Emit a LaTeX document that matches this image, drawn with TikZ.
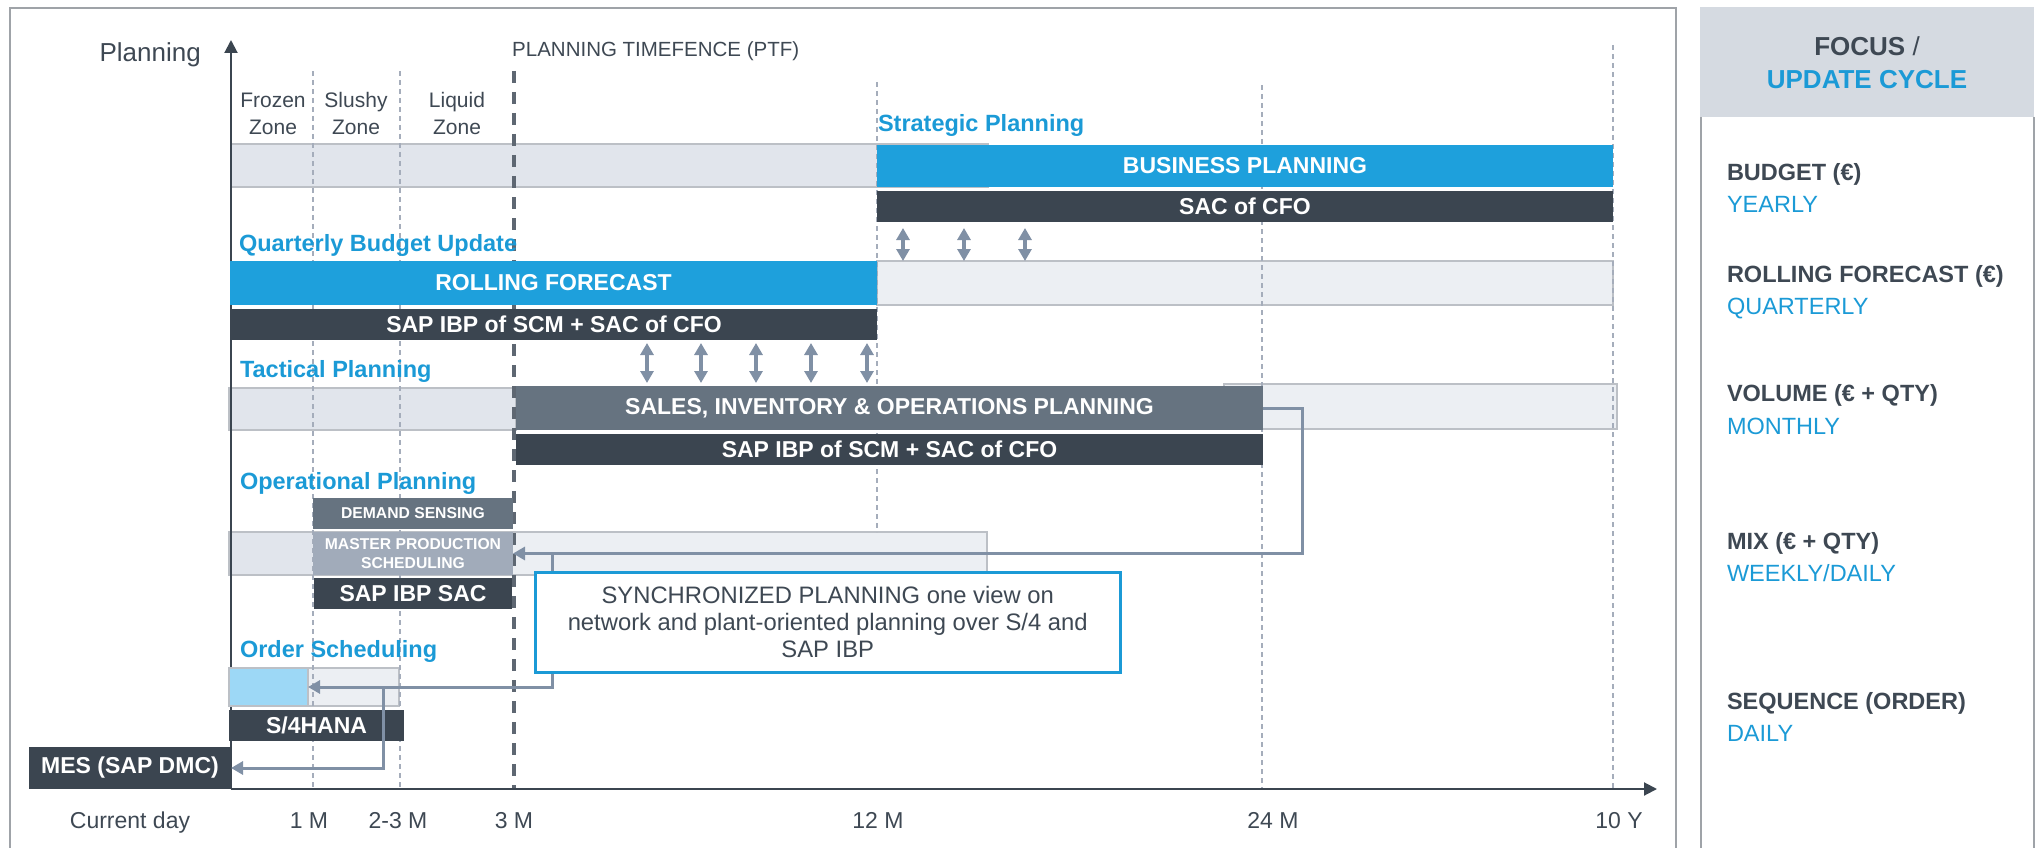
\documentclass[tikz,border=0pt]{standalone}
\usepackage{fontspec}
\setmainfont{Liberation Sans}
\usetikzlibrary{arrows.meta}
\definecolor{dk}{HTML}{3B4550}
\definecolor{txt}{HTML}{3E4853}
\definecolor{bluebar}{HTML}{1EA0DC}
\definecolor{bluet}{HTML}{1B9AD6}
\definecolor{sopc}{HTML}{667380}
\definecolor{mpsc}{HTML}{A1ABBA}
\definecolor{bandA}{HTML}{E1E5EC}
\definecolor{bandB}{HTML}{ECEFF3}
\definecolor{bandln}{HTML}{BCC0C6}
\definecolor{lblue}{HTML}{9DD8F6}
\definecolor{arrc}{HTML}{8090A5}
\definecolor{dashc}{HTML}{A5ADBB}
\definecolor{ptfc}{HTML}{5E6772}
\definecolor{framec}{HTML}{9FA3A8}
\definecolor{hdr}{HTML}{D5DAE1}
\newcommand\fBar{\fontsize{23}{26}\selectfont\bfseries}
\newcommand\fSmall{\fontsize{15.7}{18.5}\selectfont\bfseries}
\newcommand\fHead{\fontsize{23.5}{27}\selectfont\bfseries}
\newcommand\fZone{\fontsize{21}{27}\selectfont}
\newcommand\fAxis{\fontsize{23}{27}\selectfont}
\newcommand\fSync{\fontsize{23.8}{27}\selectfont}
\newcommand\fR{\fontsize{23.5}{27}\selectfont}
\newcommand\fHdr{\fontsize{26}{30}\selectfont}
\begin{document}
\begin{tikzpicture}[x=1pt,y=-1pt,
  bar/.style={rectangle, anchor=north west, inner sep=0pt, outer sep=0pt, text=white, font=\fBar, align=center},
  smallbar/.style={bar, font=\fSmall},
  head/.style={inner sep=0pt, outer sep=0pt, anchor=base west, text=bluet, font=\fHead},
  lbl/.style={inner sep=0pt, outer sep=0pt, text=txt, font=\fZone, align=center},
  axl/.style={inner sep=0pt, outer sep=0pt, anchor=base, text=txt, font=\fAxis},
  ritem/.style={inner sep=0pt, outer sep=0pt, anchor=base west, text=txt, font=\fR\bfseries},
  rcyc/.style={inner sep=0pt, outer sep=0pt, anchor=base west, text=bluet, font=\fR},
  bandbox/.style={draw=bandln, line width=1.2pt},
  thindash/.style={draw=dashc, line width=1.3pt, dash pattern=on 5pt off 4pt},
  ptfdash/.style={draw=ptfc, line width=3.5pt, dash pattern=on 12pt off 9pt},
  conn/.style={draw=arrc, line width=3pt, -{Triangle[width=13pt,length=12pt]}},
  dbl/.style={draw=arrc, line width=3.5pt, {Triangle[width=13pt,length=12pt]}-{Triangle[width=13pt,length=12pt]}},
  axis/.style={draw=dk, line width=2pt, -{Triangle[width=13pt,length=13pt]}},
]
\useasboundingbox (0,0) rectangle (2038,848);
% frames
\draw[framec, line width=2pt] (10,850) -- (10,8) -- (1676,8) -- (1676,850);
\fill[hdr] (1700,7) rectangle (2034,117);
\draw[framec, line width=2pt] (1701,117) -- (1701,850);
\draw[framec, line width=2pt] (2034,117) -- (2034,850);
% bands
\fill[bandA] (231,144) rectangle (988,187);
\draw[bandbox] (231,144) rectangle (988,187);
\fill[bandB] (877,261) rectangle (1613,305);
\draw[bandbox] (877,261) rectangle (1613,305);
\fill[bandA] (229,388) rectangle (516,430);
\draw[bandbox] (229,388) rectangle (516,430);
\fill[bandB] (1224,384) rectangle (1617,429);
\draw[bandbox] (1224,384) rectangle (1617,429);
\fill[bandA] (229,532) rectangle (513,575);
\fill[bandB] (513,532) rectangle (987,575);
\draw[bandbox] (229,532) rectangle (987,575);
\fill[bandB] (308,668) rectangle (399,706);
\draw[bandbox] (229,668) rectangle (399,706);
% dashed time lines
\draw[thindash] (313,71) -- (313,789);
\draw[thindash] (400,71) -- (400,789);
\draw[thindash] (877,82) -- (877,532);
\draw[thindash] (1262,85) -- (1262,789);
\draw[thindash] (1613,45) -- (1613,789);
\draw[ptfdash] (514,71) -- (514,789);
% axes
\draw[axis] (231,789) -- (231,40);
\draw[axis] (231,789) -- (1657,789);
% bars
\node[bar, fill=bluebar, minimum width=736pt, minimum height=42pt] (bp) at (877,145) {BUSINESS PLANNING};
\node[bar, fill=dk, minimum width=736pt, minimum height=31pt] (saccfo) at (877,191) {SAC of CFO};
\node[bar, fill=bluebar, minimum width=647pt, minimum height=44pt] (rf) at (230,261) {ROLLING FORECAST};
\node[bar, fill=dk, minimum width=646pt, minimum height=31pt] (ibpa) at (231,309) {SAP IBP of SCM + SAC of CFO};
\node[bar, fill=sopc, minimum width=747pt, minimum height=44pt] (sop) at (516,386) {SALES, INVENTORY \& OPERATIONS PLANNING};
\node[bar, fill=dk, minimum width=747pt, minimum height=31pt] (ibpb) at (516,434) {SAP IBP of SCM + SAC of CFO};
\node[smallbar, fill=sopc, minimum width=200pt, minimum height=31pt] (ds) at (313,498) {DEMAND SENSING};
\node[smallbar, fill=mpsc, minimum width=200pt, minimum height=43pt] (mps) at (313,532) {MASTER PRODUCTION\\SCHEDULING};
\node[bar, fill=dk, minimum width=198pt, minimum height=31pt] (ibpsac) at (314,578) {SAP IBP SAC};
\node[bar, fill=lblue, draw=bandln, line width=1.2pt, minimum width=79pt, minimum height=38pt] (olb) at (229,668) {};
\node[bar, fill=dk, minimum width=175pt, minimum height=31pt] (s4) at (229,710) {S/4HANA};
\node[bar, fill=dk, minimum width=202pt, minimum height=42pt] (mes) at (29,747) {MES (SAP DMC)};
% double arrows
\foreach \xx in {903,964,1025} {\draw[dbl] (\xx,228) -- (\xx,261);}
\foreach \xx in {647,701,756,811,867} {\draw[dbl] (\xx,343) -- (\xx,383);}
% connectors
\coordinate (k1) at (1302,553.5);
\coordinate (k2) at (552,553.5);
\coordinate (k3) at (552,687);
\coordinate (k4) at (383,687);
\draw[conn] (sop.east) -| (k1) -- (mps.east);
\draw[conn] (k2) -- (k3) -- (olb.east);
\draw[conn] (k4) |- (mes.east);
% sync box
\node[rectangle, anchor=north west, draw=bluet, line width=2.5pt, fill=white, inner sep=0pt, minimum width=585pt, minimum height=100pt, text=txt, font=\fSync, align=center] (sync) at (534,571) {SYNCHRONIZED PLANNING one view on\\network and plant-oriented planning over S/4 and\\SAP IBP};
% labels
\node[inner sep=0pt, anchor=base east, text=txt, font=\fHdr] (planning) at (201,62) {Planning};
\node[inner sep=0pt, anchor=base west, text=txt, font=\fontsize{20.5}{24}\selectfont] (ptf) at (512,57) {PLANNING TIMEFENCE (PTF)};
\node[lbl] (frozen) at (273,113.5) {Frozen\\Zone};
\node[lbl] (slushy) at (356,113.5) {Slushy\\Zone};
\node[lbl] (liquid) at (457,113.5) {Liquid\\Zone};
\node[head] (hstrat) at (878,132) {Strategic Planning};
\node[head] (hquart) at (239,251) {Quarterly Budget Update};
\node[head] (htact) at (240,377) {Tactical Planning};
\node[head] (hoper) at (240,489) {Operational Planning};
\node[head] (hord) at (240,657) {Order Scheduling};
% axis labels
\node[axl] (lcur) at (130,828) {Current day};
\node[axl] (l1m) at (309,828) {1 M};
\node[axl] (l23m) at (398,828) {2-3 M};
\node[axl] (l3m) at (514,828) {3 M};
\node[axl] (l12m) at (878,828) {12 M};
\node[axl] (l24m) at (1273,828) {24 M};
\node[axl] (l10y) at (1619,828) {10 Y};
% right panel
\node[inner sep=0pt, anchor=base, text=txt, font=\fHdr] (focus) at (1867,56) {\textbf{FOCUS} /};
\node[inner sep=0pt, anchor=base, text=bluet, font=\fHdr\bfseries] (upd) at (1867,89) {UPDATE CYCLE};
\node[ritem] (r1) at (1727,180) {BUDGET (€)};
\node[rcyc] (c1) at (1727,212) {YEARLY};
\node[ritem] (r2) at (1727,282) {ROLLING FORECAST (€)};
\node[rcyc] (c2) at (1727,314.5) {QUARTERLY};
\node[ritem] (r3) at (1727,401.5) {VOLUME (€ + QTY)};
\node[rcyc] (c3) at (1727,434.5) {MONTHLY};
\node[ritem] (r4) at (1727,549.5) {MIX (€ + QTY)};
\node[rcyc] (c4) at (1727,581) {WEEKLY/DAILY};
\node[ritem] (r5) at (1727,709) {SEQUENCE (ORDER)};
\node[rcyc] (c5) at (1727,741) {DAILY};
\end{tikzpicture}
\end{document}
